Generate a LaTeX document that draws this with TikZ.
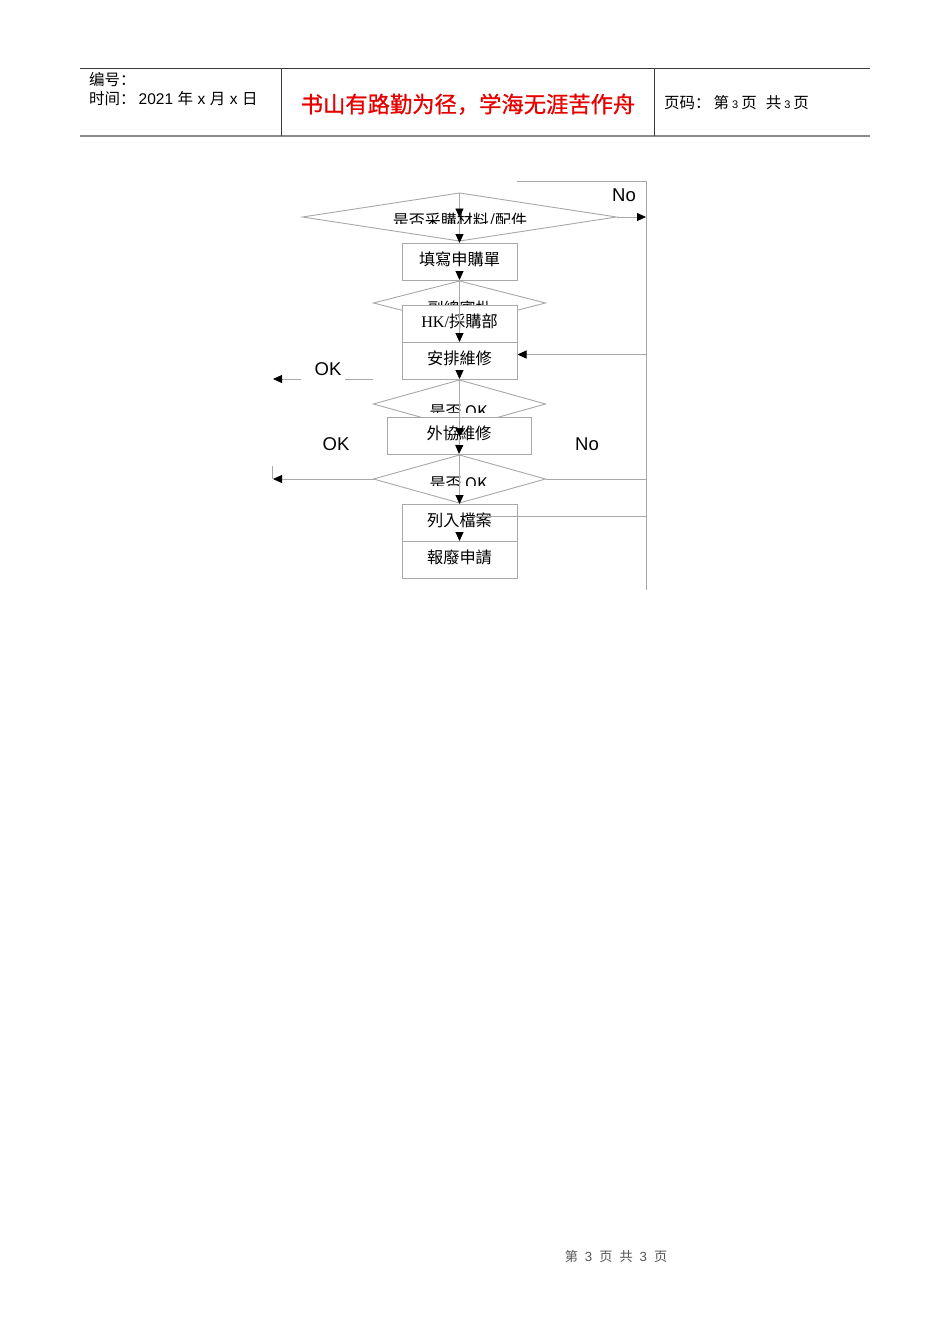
\documentclass[tikz,border=0pt]{standalone}
\usepackage{fontspec}
\newfontfamily\scfont{Noto Sans CJK SC}
\newfontfamily\scboldfont[FakeBold=0.8]{Noto Sans CJK SC}
\newfontfamily\tcfont{Noto Sans CJK TC}
\newfontfamily\arialfont{Liberation Sans}
\newfontfamily\seriffont{Liberation Serif}
\usetikzlibrary{shapes.geometric,arrows.meta}
\definecolor{linegray}{HTML}{A8A8A8}
\definecolor{boxgray}{HTML}{A8A8A8}
\definecolor{hdrdark}{HTML}{3A3A3A}
\definecolor{hdrlight}{HTML}{8C8C8C}
\definecolor{redtext}{HTML}{E60000}
\definecolor{foot}{HTML}{555555}
\begin{document}
\begin{tikzpicture}[x=1pt,y=-1pt,
  flowline/.style={draw=linegray, line width=0.9pt},
  dia/.style={diamond, draw=linegray, line width=0.9pt, inner sep=0pt, outer sep=0pt},
  box/.style={rectangle, draw=boxgray, fill=white, line width=0.9pt, inner sep=0pt, outer sep=0pt,
     minimum height=37pt, text height=10pt, text depth=3pt, font=\tcfont\fontsize{16.2}{17}\selectfont},
  arr/.style={-{Triangle[length=9pt,width=8pt,color=black]}},
  dtext/.style={anchor=base, inner sep=0pt, font=\tcfont\fontsize{16}{17}\selectfont},
  lat/.style={anchor=base, inner sep=0pt, font=\arialfont\fontsize{18.5}{19}\selectfont},
  hdr/.style={anchor=base west, inner sep=0pt, font=\scfont\fontsize{15.5}{16}\selectfont}
]
\useasboundingbox (0,0) rectangle (950,1344);
\fill[white] (0,0) rectangle (950,1344);

% ---------- header ----------
\coordinate (htl) at (80,68.5);  \coordinate (htr) at (870,68.5);
\coordinate (hbl) at (80,136);   \coordinate (hbr) at (870,136);
\draw[hdrdark, line width=1.3pt] (htl) -- (htr);
\draw[hdrlight, line width=1.8pt] (hbl) -- (hbr);
\draw[hdrdark, line width=0.9pt] (281,68.5) -- (281,136);
\draw[hdrdark, line width=0.9pt] (654,68.5) -- (654,136);
\node[hdr] (num) at (89,85.9) {编号：};
\node[hdr] (date) at (89,104.9) {时间：\hspace{3pt}{\arialfont 2021}\hspace{4.5pt}年\hspace{4.5pt}{\arialfont x}\hspace{4.5pt}月\hspace{4.5pt}{\arialfont x}\hspace{4.5pt}日};
\node[anchor=base, inner sep=0pt, text=redtext, font=\scboldfont\fontsize{22.3}{23}\selectfont] (motto) at (468,112.5) {书山有路勤为径，学海无涯苦作舟};
\node[hdr] (page) at (664,108.9) {页码：\hspace{3pt}第\hspace{3pt}{\arialfont\fontsize{11}{11}\selectfont 3}\hspace{3pt}页\hspace{9pt}共\hspace{3pt}{\arialfont\fontsize{11}{11}\selectfont 3}\hspace{3pt}页};

% ---------- footer ----------
\node[anchor=base, inner sep=0pt, text=foot, font=\scfont\fontsize{13.2}{14}\selectfont] (footer) at (616,1261) {第\hspace{7pt}{\arialfont 3}\hspace{7pt}页\hspace{7pt}共\hspace{7pt}{\arialfont 3}\hspace{7pt}页};

% ---------- diamonds ----------
\node[dia, minimum width=314pt, minimum height=48pt] (d1) at (459.5,217) {};
\node[dia, minimum width=172pt, minimum height=44pt] (d2) at (459.5,303) {};
\node[dia, minimum width=172pt, minimum height=48pt] (d3) at (459.5,404) {};
\node[dia, minimum width=172pt, minimum height=48pt] (d4) at (459.5,479) {};

% clipped diamond texts
\begin{scope}
  \clip (380,200) rectangle (540,223);
  \node[dtext] (t1) at (460,226.5) {是否采購材料/配件};
\end{scope}
\node[dtext] (t2) at (459.5,314.5) {副總審批};
\begin{scope}
  \clip (400,395) rectangle (520,412.5);
  \node[dtext] (t3) at (458.5,417) {是否 OK};
\end{scope}
\begin{scope}
  \clip (400,470) rectangle (520,485);
  \node[dtext] (t4) at (458.5,489) {是否 OK};
\end{scope}

% ---------- boxes ----------
\node[box, minimum width=115pt] (b1) at (459.5,261.5) {填寫申購單};
\node[box, minimum width=115pt] (b2) at (459.5,323.5) {{\seriffont HK/}採購部};
\node[box, minimum width=115pt] (b3) at (459.5,360.5) {安排維修};
\node[box, minimum width=144pt] (b4) at (459,435.5) {外協維修};
\node[box, minimum width=115pt] (b5) at (459.5,522.5) {列入檔案};
\node[box, minimum width=115pt] (b6) at (459.5,559.5) {報廢申請};

% ---------- labels ----------
\node[lat] (no1) at (624,201.6) {No};
\node[lat] (ok1) at (328,375.6) {OK};
\node[lat] (ok2) at (336,450.6) {OK};
\node[lat] (no2) at (587,450.6) {No};

% ---------- coordinates ----------
\coordinate (tl) at (517,181);
\coordinate (tr) at (646,181);
\coordinate (rb) at (646,590);
\coordinate (r1) at (646,217);
\coordinate (r3) at (646,354.5);
\coordinate (a3) at (517.5,354.5);
\coordinate (okl1) at (373,379);
\coordinate (okl2) at (345,379);
\coordinate (okl3) at (301,379);
\coordinate (okl4) at (273,379);
\coordinate (lft) at (273,479);
\coordinate (lfttop) at (272.5,466);
\coordinate (lftbot) at (272.5,479);
\coordinate (r4) at (646,479);
\coordinate (m5) at (470,516.5);
\coordinate (r5) at (646,516.5);
\coordinate (c1) at (459.5,217.5);
\coordinate (c1b) at (459.5,271);
\coordinate (c3) at (459.5,370);
\coordinate (c4) at (459.5,437);
\coordinate (c5) at (459.5,532);

% ---------- connectors ----------
\draw[flowline] (tl) -- (tr) -- (rb);
\draw[flowline, arr] (d1.east) -- (r1);
\draw[flowline, arr] (r3) -- (a3);
\draw[flowline] (okl1) -- (okl2);
\draw[flowline, arr] (okl3) -- (okl4);
\draw[flowline, arr] (d4.west) -- (lft);
\draw[flowline] (lfttop) -- (lftbot);
\draw[flowline] (d4.east) -- (r4);
\draw[flowline] (m5) -- (r5);

\draw[flowline, arr] (d1.north) -- (c1);
\draw[flowline, arr] (c1) -- (b1.north);
\draw[flowline, arr] (c1b) -- (b1.south);
\draw[flowline, arr] (d2.north) -- (b2.south);
\draw[flowline, arr] (c3) -- (b3.south);
\draw[flowline, arr] (d3.north) -- (c4);
\draw[flowline, arr] (c4) -- (b4.south);
\draw[flowline, arr] (d4.north) -- (b5.north);
\draw[flowline, arr] (c5) -- (b5.south);
\end{tikzpicture}
\end{document}
